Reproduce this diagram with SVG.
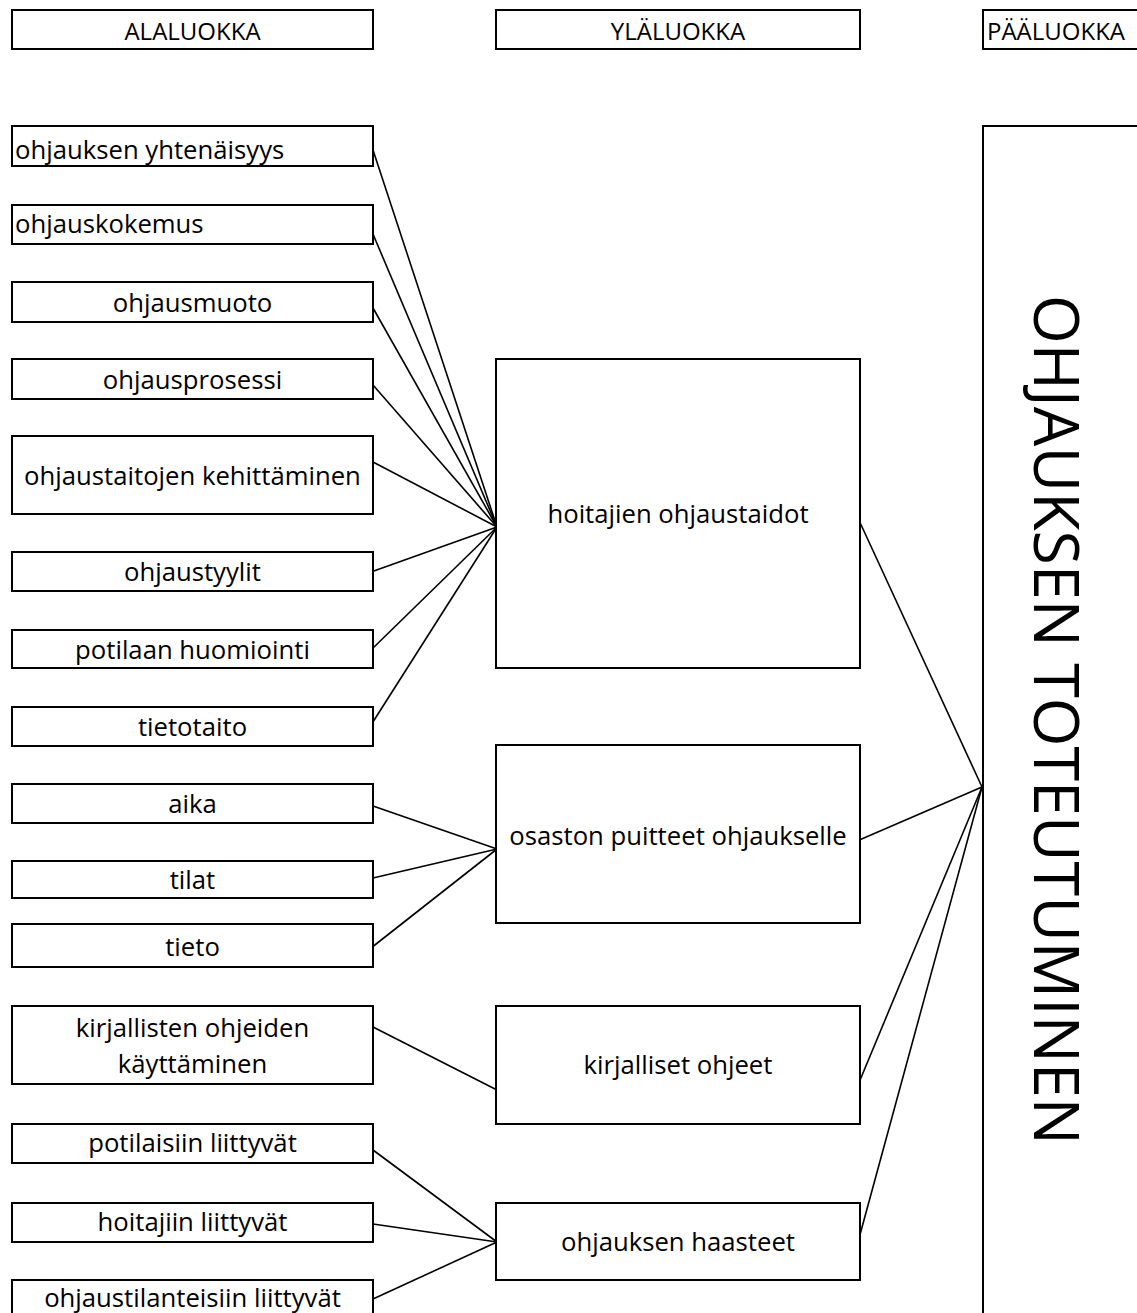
<svg xmlns="http://www.w3.org/2000/svg" width="1137" height="1313" viewBox="0 0 1137 1313">
<style>
rect{fill:#fff;stroke:#000;stroke-width:2}
text{font-family:"Open Sans","Liberation Sans",sans-serif;fill:#000}
.h{font-size:24px;text-anchor:middle}
.b{font-size:25.7px;text-anchor:middle}
.l{font-size:25.7px}
.big{font-size:62.7px;text-anchor:middle}
#connectors line{stroke:#000;stroke-width:1.6}
</style>
<rect x="0" y="0" width="1137" height="1313" style="stroke:none"/>
<g id="connectors">
<line x1="373" y1="150" x2="497" y2="527"/>
<line x1="370" y1="227" x2="497" y2="527"/>
<line x1="373" y1="308" x2="497" y2="527"/>
<line x1="373" y1="385" x2="497" y2="527"/>
<line x1="373" y1="462" x2="497" y2="527"/>
<line x1="371" y1="572" x2="497" y2="527"/>
<line x1="371" y1="650" x2="497" y2="527"/>
<line x1="371" y1="725" x2="497" y2="527"/>
<line x1="373" y1="806" x2="497" y2="849"/>
<line x1="373" y1="878" x2="497" y2="849"/>
<line x1="371" y1="948" x2="497" y2="849"/>
<line x1="373" y1="1027" x2="497" y2="1090"/>
<line x1="373" y1="1150" x2="497" y2="1242"/>
<line x1="373" y1="1224" x2="497" y2="1242"/>
<line x1="373" y1="1299" x2="497" y2="1242"/>
<line x1="857" y1="516" x2="982" y2="787"/>
<line x1="857" y1="841" x2="982" y2="787"/>
<line x1="858" y1="1085" x2="982" y2="787"/>
<line x1="858" y1="1242" x2="982" y2="787"/>
</g>
<g id="hdr-alaluokka"><rect x="12" y="10" width="361" height="39"/><text class="h" x="192.5" y="40">ALALUOKKA</text></g>
<g id="hdr-ylaluokka"><rect x="496" y="10" width="364" height="39"/><text class="h" x="678" y="40">YLÄLUOKKA</text></g>
<g id="hdr-paaluokka"><rect x="983" y="10" width="170" height="39"/><text style="font-size:24px" x="987" y="40">PÄÄLUOKKA</text></g>

<g id="n1"><rect x="12" y="126" width="361" height="40"/><text class="l" x="15" y="159">ohjauksen yhtenäisyys</text></g>
<g id="n2"><rect x="12" y="205" width="361" height="39"/><text class="l" x="15" y="233">ohjauskokemus</text></g>
<g id="n3"><rect x="12" y="282" width="361" height="40"/><text class="b" x="192.5" y="311.5">ohjausmuoto</text></g>
<g id="n4"><rect x="12" y="359" width="361" height="40"/><text class="b" x="192.5" y="388.5">ohjausprosessi</text></g>
<g id="n5"><rect x="12" y="436" width="361" height="78"/><text class="b" x="192.5" y="485">ohjaustaitojen kehittäminen</text></g>
<g id="n6"><rect x="12" y="552" width="361" height="39"/><text class="b" x="192.5" y="581">ohjaustyylit</text></g>
<g id="n7"><rect x="12" y="630" width="361" height="38"/><text class="b" x="192.5" y="658.5">potilaan huomiointi</text></g>
<g id="n8"><rect x="12" y="707" width="361" height="39"/><text class="b" x="192.5" y="736">tietotaito</text></g>
<g id="n9"><rect x="12" y="784" width="361" height="39"/><text class="b" x="192.5" y="813">aika</text></g>
<g id="n10"><rect x="12" y="861" width="361" height="37"/><text class="b" x="192.5" y="889">tilat</text></g>
<g id="n11"><rect x="12" y="924" width="361" height="43"/><text class="b" x="192.5" y="955.5">tieto</text></g>
<g id="n12"><rect x="12" y="1006" width="361" height="78"/><text class="b" x="192.5" y="1037">kirjallisten ohjeiden</text><text class="b" x="192.5" y="1073">käyttäminen</text></g>
<g id="n13"><rect x="12" y="1124" width="361" height="39"/><text class="b" x="192.5" y="1152">potilaisiin liittyvät</text></g>
<g id="n14"><rect x="12" y="1203" width="361" height="39"/><text class="b" x="192.5" y="1231">hoitajiin liittyvät</text></g>
<g id="n15"><rect x="12" y="1280" width="361" height="45"/><text class="b" x="192.5" y="1307">ohjaustilanteisiin liittyvät</text></g>

<g id="m1"><rect x="496" y="359" width="364" height="309"/><text class="b" x="678" y="523">hoitajien ohjaustaidot</text></g>
<g id="m2"><rect x="496" y="745" width="364" height="178"/><text class="b" x="678" y="845">osaston puitteet ohjaukselle</text></g>
<g id="m3"><rect x="496" y="1006" width="364" height="118"/><text class="b" x="678" y="1074">kirjalliset ohjeet</text></g>
<g id="m4"><rect x="496" y="1203" width="364" height="77"/><text class="b" x="678" y="1251">ohjauksen haasteet</text></g>

<g id="main"><rect x="983" y="126" width="170" height="1200"/><text class="big" transform="translate(1034,720) rotate(90)">OHJAUKSEN TOTEUTUMINEN</text></g>
</svg>
